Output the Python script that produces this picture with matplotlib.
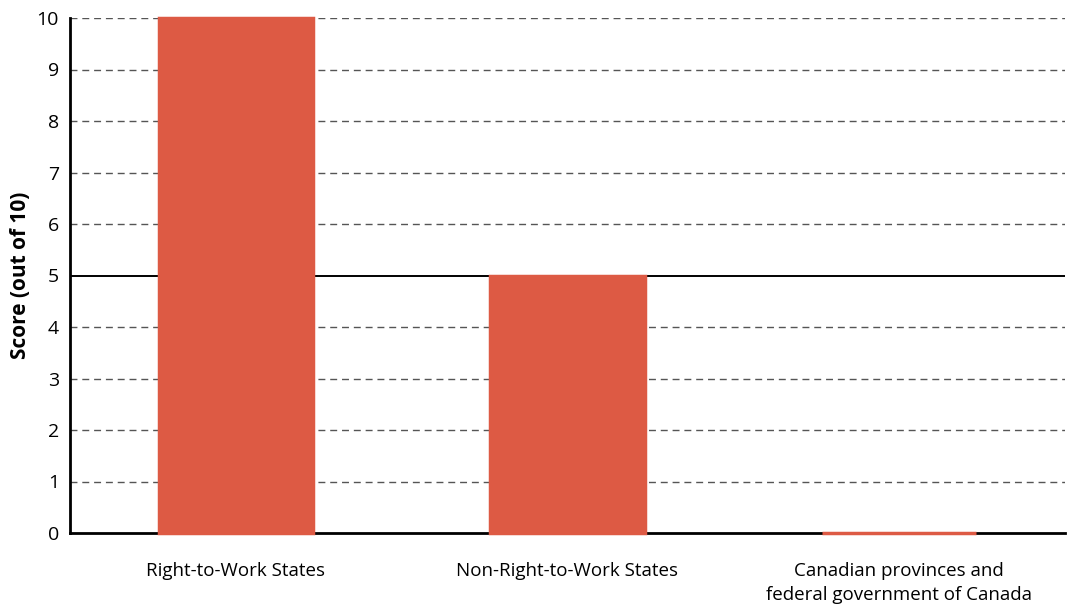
import numpy as np
import matplotlib.pyplot as plt

plt.rcParams['font.family'] = ['Open Sans', 'DejaVu Sans']

# data
categories = ["Right-to-Work States", "Non-Right-to-Work States",
              "Canadian provinces and\nfederal government of Canada"]
scores = [10, 5, 0]
bar_color = "#DD5A44"

fig = plt.figure(figsize=(10.67, 6.05), dpi=100)
ax = fig.add_axes([70 / 1067, 72 / 605, 995 / 1067, 515 / 605])

x = np.arange(len(categories))
bars = ax.bar(x, scores, width=0.465, color=bar_color, edgecolor=bar_color,
              linewidth=2.5, zorder=3)
for b in bars:
    b.set_clip_on(False)

# grid lines: dashed, except the midpoint
for v in range(1, 11):
    if v == 5:
        ax.axhline(v, color="black", lw=1.4, zorder=2)
    else:
        ax.axhline(v, color="#555555", lw=1.0, ls=(0, (5, 3.5)), zorder=1)

ax.set_xlim(-0.5, 2.5)
ax.set_ylim(0, 10)
ax.set_yticks(range(0, 11))
ax.set_xticks(x)
ax.set_xticklabels(categories, fontsize=13.5, linespacing=1.45)
ax.tick_params(axis='y', labelsize=14, length=0, pad=8)
ax.tick_params(axis='x', length=0, pad=21)
ax.set_ylabel("Score (out of 10)", fontsize=15, fontweight='bold', labelpad=4)

for s in ['top', 'right']:
    ax.spines[s].set_visible(False)
ax.spines['left'].set_linewidth(2)
ax.spines['bottom'].set_linewidth(2)
ax.spines['bottom'].set_zorder(2)

fig.savefig("out.png", dpi=100)
